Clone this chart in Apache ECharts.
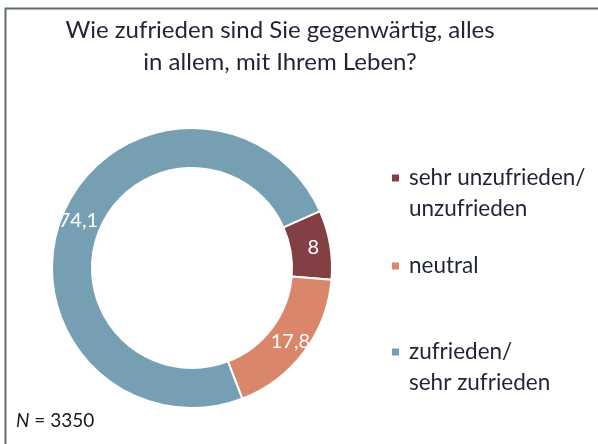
<!DOCTYPE html>
<html>
<head>
<meta charset="utf-8">
<script src="https://cdn.jsdelivr.net/npm/echarts@6/dist/echarts.min.js"></script>
<style>
  html, body { margin: 0; padding: 0; background: #fff; }
  #pie { width: 598px; height: 444px; }
</style>
</head>
<body>
<div id="pie"></div>
<script>
// Daten aus der Abbildung
var categories = ['sehr unzufrieden/\nunzufrieden', 'neutral', 'zufrieden/\nsehr zufrieden'];
var values = [8, 17.8, 74.1];
var colors = ['#843f45', '#d9866a', '#769fb3'];
var titleText = 'Wie zufrieden sind Sie gegenwärtig, alles\nin allem, mit Ihrem Leben?';
var sampleSize = 3350;

var myChart = echarts.init(document.getElementById('pie'));

var pieData = categories.map(function (name, i) {
    return { name: name, value: values[i], itemStyle: { color: colors[i] } };
});

// Legende: jeweils ein Eintrag, Symbol auf Höhe der ersten Zeile
var legendTops = [131.5, 250.5, 305.5];
var legends = categories.map(function (name, i) {
    var twoLines = name.indexOf('\n') >= 0;
    return {
        data: [name],
        orient: 'vertical',
        left: 390,
        top: legendTops[i],
        padding: 0,
        icon: 'rect',
        itemWidth: 9,
        itemHeight: 9,
        selectedMode: false,
        // leere erste Zeile, damit das Kästchen neben der ersten Textzeile steht
        formatter: function (n) {
            return twoLines ? '\n' + n : n;
        },
        textStyle: {
            fontFamily: 'Lato',
            fontSize: 22.5,
            color: '#1f2535',
            lineHeight: 31,
            padding: [0, 0, 0, 4]
        }
    };
});

var option = {
    backgroundColor: '#fff',
    animation: false,
    title: [
        {
            text: titleText,
            left: 280,
            top: 14,
            padding: 0,
            textAlign: 'center',
            textStyle: {
                fontFamily: 'Lato',
                fontWeight: 'normal',
                fontSize: 24,
                lineHeight: 32,
                color: '#1f2535'
            }
        },
        {
            text: '{i|N} = ' + sampleSize,
            left: 16,
            top: 411,
            padding: 0,
            textStyle: {
                fontFamily: 'Lato',
                fontWeight: 'normal',
                fontSize: 19,
                color: '#1a1a1a',
                rich: {
                    i: { fontFamily: 'Lato', fontStyle: 'italic', fontSize: 19, color: '#1a1a1a' }
                }
            }
        }
    ],
    legend: legends,
    graphic: [
        {
            type: 'polyline',
            shape: { points: [[5.5, 444], [5.5, 8.5], [598, 8.5]] },
            style: { fill: null, stroke: '#5f6f68', lineWidth: 2 },
            silent: true
        }
    ],
    series: [
        {
            type: 'pie',
            center: [192, 268],
            radius: [100, 140],
            startAngle: 24,
            clockwise: true,
            silent: true,
            itemStyle: { borderColor: '#fff', borderWidth: 2 },
            label: {
                show: true,
                position: 'inside',
                fontFamily: 'Lato',
                fontSize: 20,
                color: '#fff',
                formatter: function (p) {
                    return String(p.value).replace('.', ',');
                }
            },
            labelLine: { show: false },
            data: pieData
        }
    ]
};

myChart.setOption(option);
</script>
</body>
</html>
